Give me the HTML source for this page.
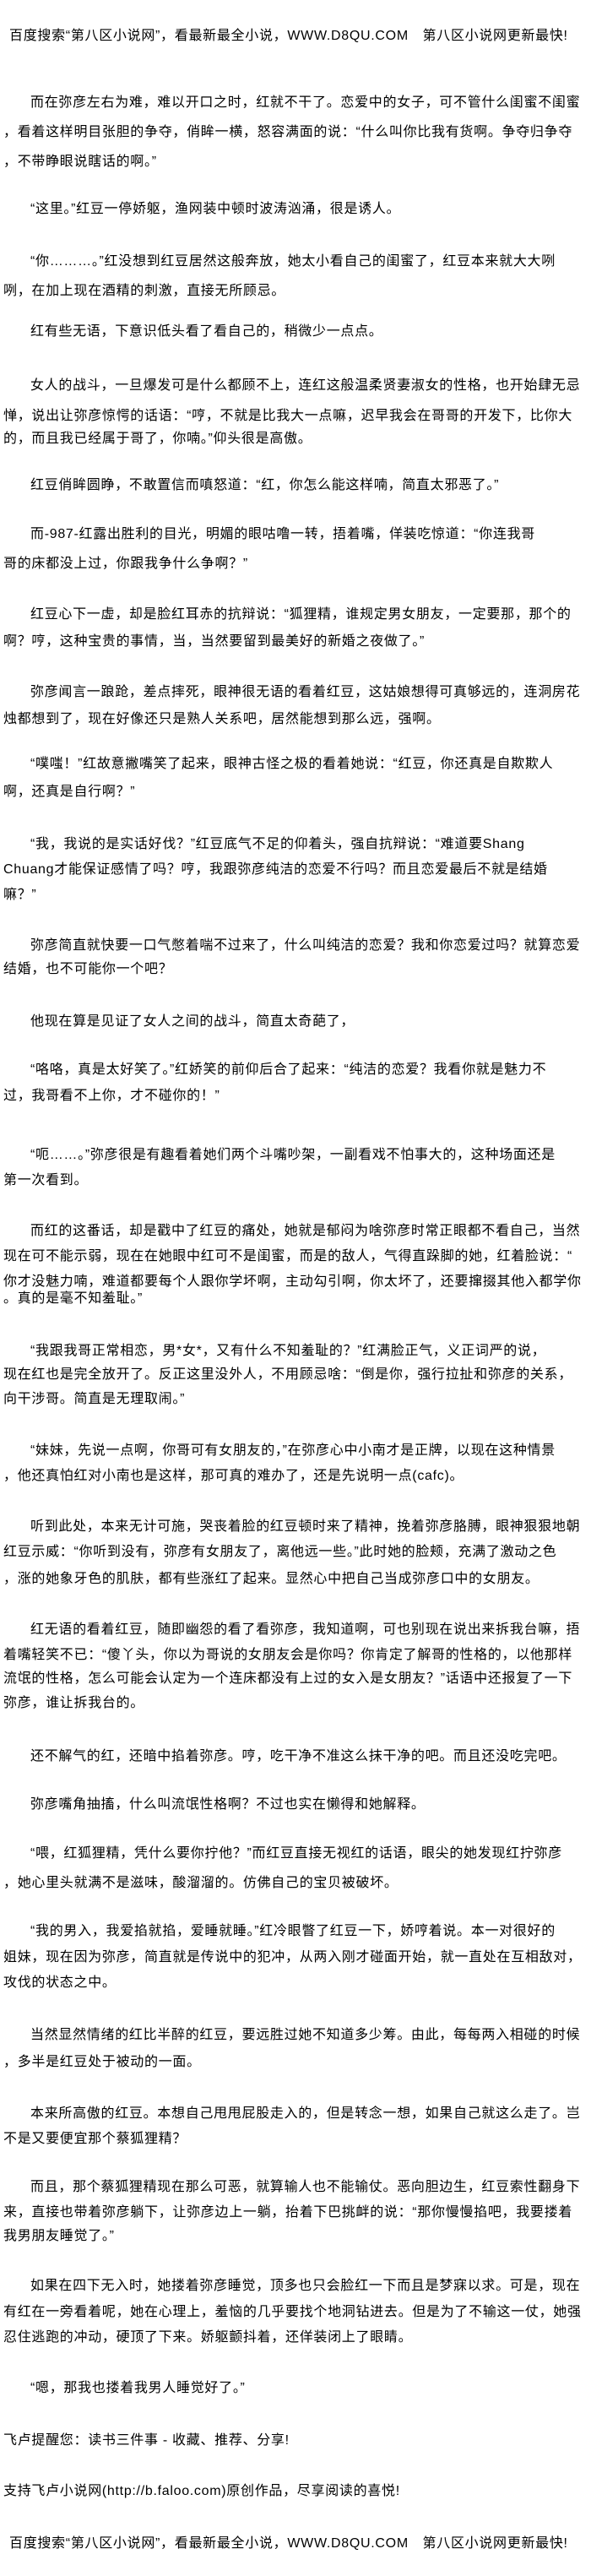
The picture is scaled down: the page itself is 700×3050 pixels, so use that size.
<!DOCTYPE html>
<html><head><meta charset="utf-8">
<style>
html,body{margin:0;padding:0;background:#fff;}
body{width:700px;height:3050px;position:relative;overflow:hidden;}
.l{position:absolute;left:4px;white-space:nowrap;font-family:"Liberation Sans","Noto Sans CJK SC",sans-serif;font-size:16px;line-height:18px;letter-spacing:0.7px;color:#000;}
.i{left:36px;}
.h{left:11px;}
</style></head><body>
<div class="l h" style="top:34px">百度搜索“第八区小说网”，看最新最全小说，WWW.D8QU.COM　第八区小说网更新最快!</div>

<div class="l i" style="top:113px">而在弥彦左右为难，难以开口之时，红就不干了。恋爱中的女子，可不管什么闺蜜不闺蜜</div>
<div class="l" style="top:148px">，看着这样明目张胆的争夺，俏眸一横，怒容满面的说：“什么叫你比我有货啊。争夺归争夺</div>
<div class="l" style="top:183px">，不带睁眼说瞎话的啊。”</div>

<div class="l i" style="top:239px">“这里。”红豆一停娇躯，渔网装中顿时波涛汹涌，很是诱人。</div>

<div class="l i" style="top:301px">“你………。”红没想到红豆居然这般奔放，她太小看自己的闺蜜了，红豆本来就大大咧</div>
<div class="l" style="top:336px">咧，在加上现在酒精的刺激，直接无所顾忌。</div>

<div class="l i" style="top:384px">红有些无语，下意识低头看了看自己的，稍微少一点点。</div>

<div class="l i" style="top:448px">女人的战斗，一旦爆发可是什么都顾不上，连红这般温柔贤妻淑女的性格，也开始肆无忌</div>
<div class="l" style="top:484px">惮，说出让弥彦惊愕的话语：“哼，不就是比我大一点嘛，迟早我会在哥哥的开发下，比你大</div>
<div class="l" style="top:511px">的，而且我已经属于哥了，你喃。”仰头很是高傲。</div>

<div class="l i" style="top:566px">红豆俏眸圆睁，不敢置信而嗔怒道：“红，你怎么能这样喃，简直太邪恶了。”</div>

<div class="l i" style="top:624px">而-987-红露出胜利的目光，明媚的眼咕噜一转，捂着嘴，佯装吃惊道：“你连我哥</div>
<div class="l" style="top:659px">哥的床都没上过，你跟我争什么争啊？”</div>

<div class="l i" style="top:719px">红豆心下一虚，却是脸红耳赤的抗辩说：“狐狸精，谁规定男女朋友，一定要那，那个的</div>
<div class="l" style="top:751px">啊？哼，这种宝贵的事情，当，当然要留到最美好的新婚之夜做了。”</div>

<div class="l i" style="top:811px">弥彦闻言一踉跄，差点摔死，眼神很无语的看着红豆，这姑娘想得可真够远的，连洞房花</div>
<div class="l" style="top:843px">烛都想到了，现在好像还只是熟人关系吧，居然能想到那么远，强啊。</div>

<div class="l i" style="top:896px">“噗嗤！”红故意撇嘴笑了起来，眼神古怪之极的看着她说：“红豆，你还真是自欺欺人</div>
<div class="l" style="top:929px">啊，还真是自行啊？”</div>

<div class="l i" style="top:991px">“我，我说的是实话好伐？”红豆底气不足的仰着头，强自抗辩说：“难道要Shang</div>
<div class="l" style="top:1021px">Chuang才能保证感情了吗？哼，我跟弥彦纯洁的恋爱不行吗？而且恋爱最后不就是结婚</div>
<div class="l" style="top:1051px">嘛？”</div>

<div class="l i" style="top:1111px">弥彦简直就快要一口气憋着喘不过来了，什么叫纯洁的恋爱？我和你恋爱过吗？就算恋爱</div>
<div class="l" style="top:1139px">结婚，也不可能你一个吧？</div>

<div class="l i" style="top:1201px">他现在算是见证了女人之间的战斗，简直太奇葩了，</div>

<div class="l i" style="top:1258px">“咯咯，真是太好笑了。”红娇笑的前仰后合了起来：“纯洁的恋爱？我看你就是魅力不</div>
<div class="l" style="top:1289px">过，我哥看不上你，才不碰你的！”</div>

<div class="l i" style="top:1359px">“呃……。”弥彦很是有趣看着她们两个斗嘴吵架，一副看戏不怕事大的，这种场面还是</div>
<div class="l" style="top:1389px">第一次看到。</div>

<div class="l i" style="top:1449px">而红的这番话，却是戳中了红豆的痛处，她就是郁闷为啥弥彦时常正眼都不看自己，当然</div>
<div class="l" style="top:1479px">现在可不能示弱，现在在她眼中红可不是闺蜜，而是的敌人，气得直跺脚的她，红着脸说：“</div>
<div class="l" style="top:1509px">你才没魅力喃，难道都要每个人跟你学坏啊，主动勾引啊，你太坏了，还要撺掇其他入都学你</div>
<div class="l" style="top:1529px">。真的是毫不知羞耻。”</div>

<div class="l i" style="top:1591px">“我跟我哥正常相恋，男*女*，又有什么不知羞耻的？”红满脸正气，义正词严的说，</div>
<div class="l" style="top:1619px">现在红也是完全放开了。反正这里没外人，不用顾忌啥：“倒是你，强行拉扯和弥彦的关系，</div>
<div class="l" style="top:1648px">向干涉哥。简直是无理取闹。”</div>

<div class="l i" style="top:1709px">“妹妹，先说一点啊，你哥可有女朋友的，”在弥彦心中小南才是正牌，以现在这种情景</div>
<div class="l" style="top:1739px">，他还真怕红对小南也是这样，那可真的难办了，还是先说明一点(cafc)。</div>

<div class="l i" style="top:1799px">听到此处，本来无计可施，哭丧着脸的红豆顿时来了精神，挽着弥彦胳膊，眼神狠狠地朝</div>
<div class="l" style="top:1829px">红豆示威：“你听到没有，弥彦有女朋友了，离他远一些。”此时她的脸颊，充满了激动之色</div>
<div class="l" style="top:1861px">，涨的她象牙色的肌肤，都有些涨红了起来。显然心中把自己当成弥彦口中的女朋友。</div>

<div class="l i" style="top:1921px">红无语的看着红豆，随即幽怨的看了看弥彦，我知道啊，可也别现在说出来拆我台嘛，捂</div>
<div class="l" style="top:1951px">着嘴轻笑不已：“傻丫头，你以为哥说的女朋友会是你吗？你肯定了解哥的性格的，以他那样</div>
<div class="l" style="top:1979px">流氓的性格，怎么可能会认定为一个连床都没有上过的女入是女朋友？”话语中还报复了一下</div>
<div class="l" style="top:2008px">弥彦，谁让拆我台的。</div>

<div class="l i" style="top:2071px">还不解气的红，还暗中掐着弥彦。哼，吃干净不准这么抹干净的吧。而且还没吃完吧。</div>

<div class="l i" style="top:2128px">弥彦嘴角抽搐，什么叫流氓性格啊？不过也实在懒得和她解释。</div>

<div class="l i" style="top:2186px">“喂，红狐狸精，凭什么要你拧他？”而红豆直接无视红的话语，眼尖的她发现红拧弥彦</div>
<div class="l" style="top:2221px">，她心里头就满不是滋味，酸溜溜的。仿佛自己的宝贝被破坏。</div>

<div class="l i" style="top:2278px">“我的男入，我爱掐就掐，爱睡就睡。”红冷眼瞥了红豆一下，娇哼着说。本一对很好的</div>
<div class="l" style="top:2309px">姐妹，现在因为弥彦，简直就是传说中的犯冲，从两入刚才碰面开始，就一直处在互相敌对，</div>
<div class="l" style="top:2339px">攻伐的状态之中。</div>

<div class="l i" style="top:2401px">当然显然情绪的红比半醉的红豆，要远胜过她不知道多少筹。由此，每每两入相碰的时候</div>
<div class="l" style="top:2433px">，多半是红豆处于被动的一面。</div>

<div class="l i" style="top:2494px">本来所高傲的红豆。本想自己甩甩屁股走入的，但是转念一想，如果自己就这么走了。岂</div>
<div class="l" style="top:2524px">不是又要便宜那个蔡狐狸精？</div>

<div class="l i" style="top:2581px">而且，那个蔡狐狸精现在那么可恶，就算输人也不能输仗。恶向胆边生，红豆索性翻身下</div>
<div class="l" style="top:2611px">来，直接也带着弥彦躺下，让弥彦边上一躺，抬着下巴挑衅的说：“那你慢慢掐吧，我要搂着</div>
<div class="l" style="top:2639px">我男朋友睡觉了。”</div>

<div class="l i" style="top:2698px">如果在四下无入时，她搂着弥彦睡觉，顶多也只会脸红一下而且是梦寐以求。可是，现在</div>
<div class="l" style="top:2729px">有红在一旁看着呢，她在心理上，羞恼的几乎要找个地洞钻进去。但是为了不输这一仗，她强</div>
<div class="l" style="top:2759px">忍住逃跑的冲动，硬顶了下来。娇躯颤抖着，还佯装闭上了眼睛。</div>

<div class="l i" style="top:2819px">“嗯，那我也搂着我男人睡觉好了。”</div>

<div class="l" style="top:2881px">飞卢提醒您：读书三件事 - 收藏、推荐、分享!</div>

<div class="l" style="top:2941px">支持飞卢小说网(http://b.faloo.com)原创作品，尽享阅读的喜悦!</div>

<div class="l h" style="top:3003px">百度搜索“第八区小说网”，看最新最全小说，WWW.D8QU.COM　第八区小说网更新最快!</div>
</body></html>
